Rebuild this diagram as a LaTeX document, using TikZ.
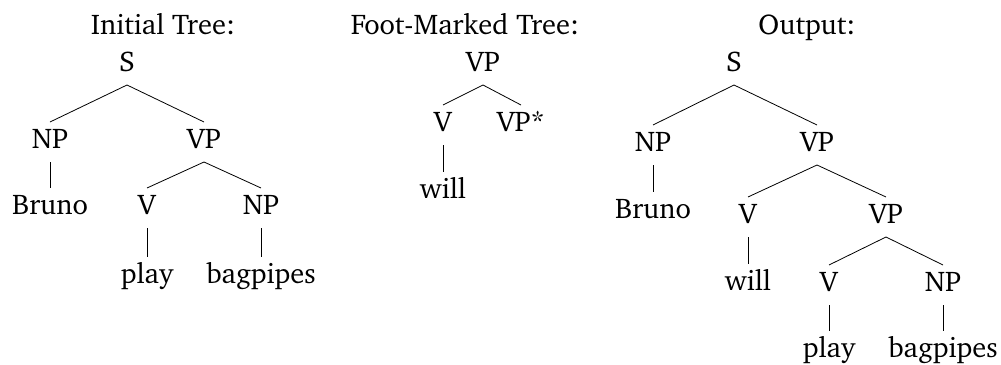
\documentclass[tikz,border=0pt]{standalone}
\usepackage[T1]{fontenc}
\usepackage{charter}
\usepackage{tikz}
\tikzset{>=latex}
\tikzset{
  lbl/.style={anchor=base,inner sep=0pt,font=\fontsize{28.5}{34}\selectfont},
  branch/.style={line width=0.8pt}
}

\begin{document}
\begin{tikzpicture}[x=1pt,y=-1pt]
  \useasboundingbox (0,0) rectangle (1001,364);
  % 标题
  \node[lbl] (tInit) at (163,34) {Initial Tree:};
  \node[lbl] (tFoot) at (465,34) {Foot-Marked Tree:};
  \node[lbl] (tOut)  at (807,34) {Output:};
  % 初始树
  \node[lbl] (iS)     at (127,71)  {S};
  \node[lbl] (iNP)    at (50,148)  {NP};
  \node[lbl] (iVP)    at (204,148) {VP};
  \node[lbl] (iBruno) at (50,214)  {Bruno};
  \node[lbl] (iV)     at (147,214) {V};
  \node[lbl] (iNPb)   at (261,214) {NP};
  \node[lbl] (iplay)  at (147,283) {play};
  \node[lbl] (ibag)   at (261,283) {bagpipes};
  % 脚注树
  \node[lbl] (fVP)    at (483,71)  {VP};
  \node[lbl] (fV)     at (443,131) {V};
  \node[lbl] (fVPs)   at (521,131) {VP*};
  \node[lbl] (fwill)  at (443,198) {will};
  % 输出树
  \node[lbl] (oS)     at (734,71)  {S};
  \node[lbl] (oNP)    at (653,151) {NP};
  \node[lbl] (oVP)    at (817,151) {VP};
  \node[lbl] (oBruno) at (653,218) {Bruno};
  \node[lbl] (oV)     at (748,223) {V};
  \node[lbl] (oVPb)   at (886,223) {VP};
  \node[lbl] (owill)  at (748,290) {will};
  \node[lbl] (oVb)    at (829,291) {V};
  \node[lbl] (oNPb)   at (943,291) {NP};
  \node[lbl] (oplay)  at (829,357) {play};
  \node[lbl] (obag)   at (943,357) {bagpipes};
  % 父节点 -- 子节点
  \foreach \p/\c in {iS/iNP,iS/iVP,iNP/iBruno,iVP/iV,iVP/iNPb,iV/iplay,iNPb/ibag,
                     fVP/fV,fVP/fVPs,fV/fwill,
                     oS/oNP,oS/oVP,oNP/oBruno,oVP/oV,oVP/oVPb,oV/owill,
                     oVPb/oVb,oVPb/oNPb,oVb/oplay,oNPb/obag}
    \draw[branch] ([yshift=-14pt]\p.base) -- ([yshift=26pt]\c.base);
\end{tikzpicture}
\end{document}
